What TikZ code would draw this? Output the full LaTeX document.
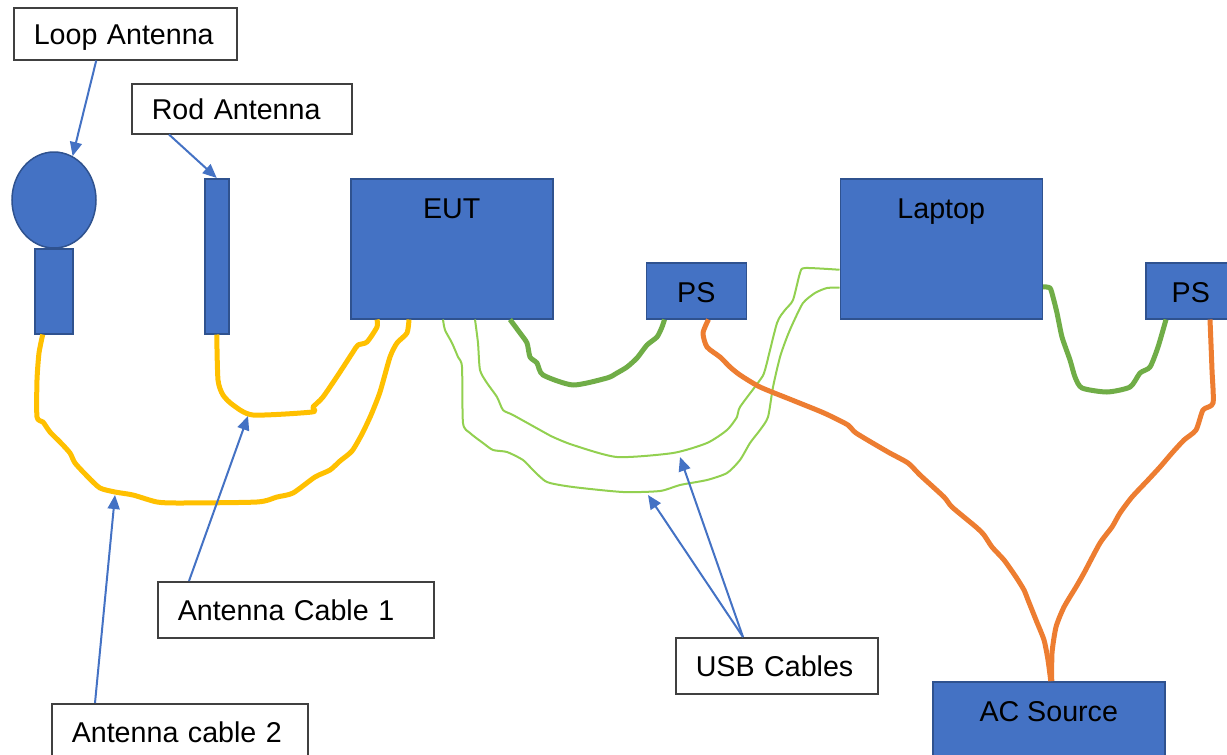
\documentclass[tikz,border=0pt]{standalone}
\usepackage{fontspec}
\setmainfont{Liberation Sans}
\usetikzlibrary{positioning,shapes.geometric,arrows.meta}
\newlength\dpx
\setlength\dpx{0.02cm}
\definecolor{boxblue}{HTML}{4472C4}
\definecolor{boxedge}{HTML}{2F528F}
\definecolor{tagedge}{HTML}{404040}
\definecolor{antgold}{HTML}{FFC000}
\definecolor{usbgreen}{HTML}{92D050}
\definecolor{dcgreen}{HTML}{70AD47}
\definecolor{acorange}{HTML}{ED7D31}
\tikzset{
	unit/.style={draw=boxedge, fill=boxblue, line width=1.5\dpx, inner sep=0pt, anchor=north west},
	tag/.style={draw=tagedge, fill=white, line width=1.5\dpx, anchor=north west, inner xsep=20\dpx, inner ysep=0pt, align=left, text height=12.5pt, text depth=0pt},
	pointer/.style={draw=boxblue, line width=2\dpx, -{Triangle[length=0.28cm, width=0.24cm]}},
	antcable/.style={draw=antgold, line width=5\dpx, line join=round},
	usb/.style={draw=usbgreen, line width=2\dpx, line join=round},
	dccable/.style={draw=dcgreen, line width=5\dpx, line join=round},
	accable/.style={draw=acorange, line width=5\dpx, line join=round},
}
\begin{document}
\begin{tikzpicture}[x=0.02cm, y=-0.02cm, font=\fontsize{16.3}{19.5}\selectfont]
	\useasboundingbox (0,0) rectangle (1227,754);
	\clip (0,0) rectangle (1227,754);
	\node[ellipse, draw=boxedge, fill=boxblue, line width=1.5\dpx, minimum width=84\dpx, minimum height=96\dpx, inner sep=0pt] (loop) at (54,200) {};
	\node[unit, minimum width=38\dpx, minimum height=85\dpx] (loopbase) at (34,248) {};
	\node[unit, minimum width=24\dpx, minimum height=155\dpx] (rod) at (204,178) {};
	\node[unit, minimum width=202\dpx, text height=40\dpx, text depth=100\dpx] (eut) at (350,178) {EUT};
	\node[unit, minimum width=100\dpx, text height=40\dpx, text depth=16\dpx, right=92\dpx of eut.south east, anchor=south west] (ps1) {PS};
	\node[unit, minimum width=202\dpx, text height=40\dpx, text depth=100\dpx, right=286\dpx of eut.north east, anchor=north west] (laptop) {Laptop};
	\node[unit, minimum width=90\dpx, text height=40\dpx, text depth=16\dpx, right=102\dpx of laptop.south east, anchor=south west] (ps2) {PS};
	\node[unit, minimum width=232\dpx, text height=40\dpx, text depth=50\dpx] (ac) at (932,681) {AC Source};
	
	\node[tag, text width=183\dpx, minimum height=52\dpx] (looptag) at (13,7) {Loop Antenna};
	\node[tag, text width=180\dpx, minimum height=50\dpx] (rodtag) at (131,83) {Rod Antenna};
	\node[tag, text width=236\dpx, minimum height=56\dpx] (cab1tag) at (157,581) {Antenna Cable 1};
	\node[tag, text width=216\dpx, minimum height=56\dpx] (cab2tag) at (51,703) {Antenna cable 2};
	\node[tag, text width=162\dpx, minimum height=56\dpx] (usbtag) at (675,637) {USB Cables};
	
	\draw[antcable] plot[smooth, tension=0.4] coordinates {([xshift=-11\dpx]loopbase.south) (39,353) (37,380) (37,417) (43,422) (50,432) (60,442) (70,453) (75,463) (88,477) (100,488) (115,492) (133,495) (157,502) (180,503) (257,502) (277,497) (293,493) (315,477) (330,470) (340,461) (352,451) (362,434) (371,415) (380,392) (390,357) (397,343) (407,333) ([xshift=59\dpx]eut.south west)};
	\draw[antcable] plot[smooth, tension=0.4] coordinates {(rod.south) (218,380) (223,395) (233,405) (253,415) (312,412) (313,407) (323,397) (340,372) (353,352) (358,345) (367,342) (377,327) ([xshift=27\dpx]eut.south west)};
	\draw[usb] plot[smooth, tension=0.4] coordinates {([xshift=125\dpx]eut.south west) (478,343) (480,370) (487,383) (497,397) (503,410) (513,415) (540,430) (553,437) (573,445) (617,457) (673,453) (707,443) (727,430) (737,417) (740,407) (760,380) (765,370) (777,323) (785,310) (793,300) (800,273) (805,268) ([yshift=-21\dpx]laptop.west)};
	\draw[usb] plot[smooth, tension=0.4] coordinates {([xshift=93\dpx]eut.south west) (445,330) (452,343) (458,357) (462,367) (463,423) (470,433) (483,443) (493,450) (507,452) (523,460) (533,470) (547,482) (573,487) (623,492) (660,491) (680,485) (707,480) (727,473) (740,460) (750,443) (760,430) (768,417) (773,387) (780,357) (787,337) (793,323) (803,303) (815,293) (827,288) ([yshift=-39\dpx]laptop.west)};
	\draw[dccable] plot[smooth, tension=0.4] coordinates {([xshift=160\dpx]eut.south west) (520,333) (527,343) (530,357) (537,363) (543,375) (573,385) (607,378) (617,373) (627,367) (637,358) (647,345) (657,337) (662,327) ([xshift=19\dpx]ps1.south west)};
	\draw[dccable] plot[smooth, tension=0.4] coordinates {([yshift=-38\dpx]laptop.east) (1050,288) (1053,297) (1057,313) (1062,337) (1070,360) (1075,377) (1082,388) (1107,392) (1130,387) (1140,373) (1150,367) (1158,347) ([xshift=21\dpx]ps2.south west)};
	\draw[accable] plot[smooth, tension=0.4] coordinates {([xshift=63\dpx]ps1.south west) (703,333) (707,347) (720,357) (730,367) (740,375) (760,387) (792,400) (824,413) (848,425) (856,433) (888,452) (908,463) (920,475) (944,497) (952,507) (976,527) (984,535) (992,547) (1004,560) (1016,577) (1024,590) (1028,600) (1036,620) (1044,640) (1048,660) ([xshift=2\dpx]ac.north)};
	\draw[accable] plot[smooth, tension=0.4] coordinates {([xshift=65\dpx]ps2.south west) (1212,370) (1213,403) (1203,410) (1196,430) (1184,440) (1172,453) (1160,467) (1148,480) (1132,497) (1120,513) (1112,527) (1100,543) (1084,573) (1076,587) (1064,607) (1056,627) (1052,653) ([xshift=3\dpx]ac.north)};
	
	\coordinate (c1mark) at (248,416);
	\coordinate (c2mark) at (115,495);
	\coordinate (usbmark1) at (680,457);
	\coordinate (usbmark2) at (648,495);
	\draw[pointer] ([xshift=-29\dpx]looptag.south) -- (loop.67);
	\draw[pointer] ([xshift=38\dpx]rodtag.south west) -- (rod.north);
	\draw[pointer] ([xshift=32\dpx]cab1tag.north west) -- (c1mark);
	\draw[pointer] ([xshift=44\dpx]cab2tag.north west) -- (c2mark);
	\draw[pointer] ([xshift=68\dpx]usbtag.north west) -- (usbmark1);
	\draw[pointer] ([xshift=68\dpx]usbtag.north west) -- (usbmark2);
\end{tikzpicture}
\end{document}
